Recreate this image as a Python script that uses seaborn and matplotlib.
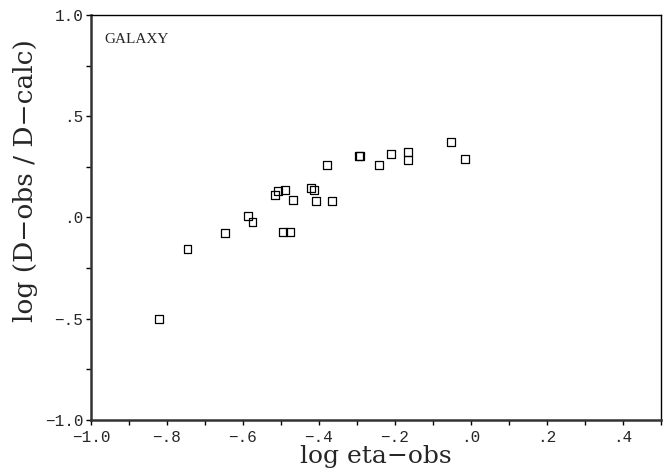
import numpy as np
import pandas as pd
import matplotlib
matplotlib.use("Agg")
import matplotlib.pyplot as plt
import seaborn as sns
from matplotlib.ticker import FuncFormatter, MultipleLocator

# datos
log_eta_obs = [-0.822, -0.746, -0.648, -0.586, -0.575, -0.494, -0.477, -0.516,
               -0.507, -0.489, -0.469, -0.421, -0.414, -0.409, -0.365, -0.378,
               -0.294, -0.291, -0.243, -0.210, -0.165, -0.165, -0.052, -0.016]
log_d_ratio = [-0.502, -0.155, -0.076, 0.007, -0.024, -0.070, -0.073, 0.110,
               0.131, 0.137, 0.088, 0.146, 0.137, 0.081, 0.083, 0.258,
               0.303, 0.305, 0.258, 0.313, 0.322, 0.284, 0.371, 0.290]

df = pd.DataFrame({"x": log_eta_obs, "y": log_d_ratio})

sns.set_style("ticks")
plt.rcParams["font.family"] = ["DejaVu Serif", "Liberation Serif"]

fig = plt.figure(figsize=(6.72, 4.73), dpi=100)
ax = fig.add_axes([91 / 672, 1 - 420 / 473, 570 / 672, 405 / 473])

sns.scatterplot(data=df, x="x", y="y", ax=ax, marker="s", s=32,
                facecolor="none", edgecolor="black", linewidth=0.9)

ax.set_xlim(-1.0, 0.5)
ax.set_ylim(-1.0, 1.0)


def fmt(v, pos):
    if abs(v) < 1e-9:
        return ".0"
    s = f"{v:.1f}"
    if abs(v) < 1:
        s = s.replace("0.", ".")
    return s.replace("-", "\u2212")


ax.xaxis.set_major_locator(MultipleLocator(0.2))
ax.xaxis.set_minor_locator(MultipleLocator(0.1))
ax.yaxis.set_major_locator(MultipleLocator(0.5))
ax.yaxis.set_minor_locator(MultipleLocator(0.25))
ax.xaxis.set_major_formatter(FuncFormatter(fmt))
ax.yaxis.set_major_formatter(FuncFormatter(fmt))

ax.tick_params(which="both", direction="out", length=3.5, width=1, color="black",
               labelsize=11.5)
ax.tick_params(axis="x", pad=4)
ax.tick_params(axis="y", pad=2)
for lab in ax.get_xticklabels() + ax.get_yticklabels():
    lab.set_family(["Liberation Mono", "DejaVu Sans Mono"])

for side in ["left", "bottom"]:
    ax.spines[side].set_linewidth(1.8)
    ax.spines[side].set_color("#333333")
for side in ["top", "right"]:
    ax.spines[side].set_linewidth(1.0)
    ax.spines[side].set_color("black")

ax.set_xlabel("log eta\u2212obs", fontsize=18, labelpad=0)
ax.set_ylabel("log (D\u2212obs / D\u2212calc)", fontsize=19)
ax.yaxis.set_label_coords(-0.093, 0.59)
ax.text(0.024, 0.955, "GALAXY", transform=ax.transAxes, fontsize=11,
        va="top", ha="left", family=["Liberation Serif"])

fig.savefig("out.png", dpi=100)
